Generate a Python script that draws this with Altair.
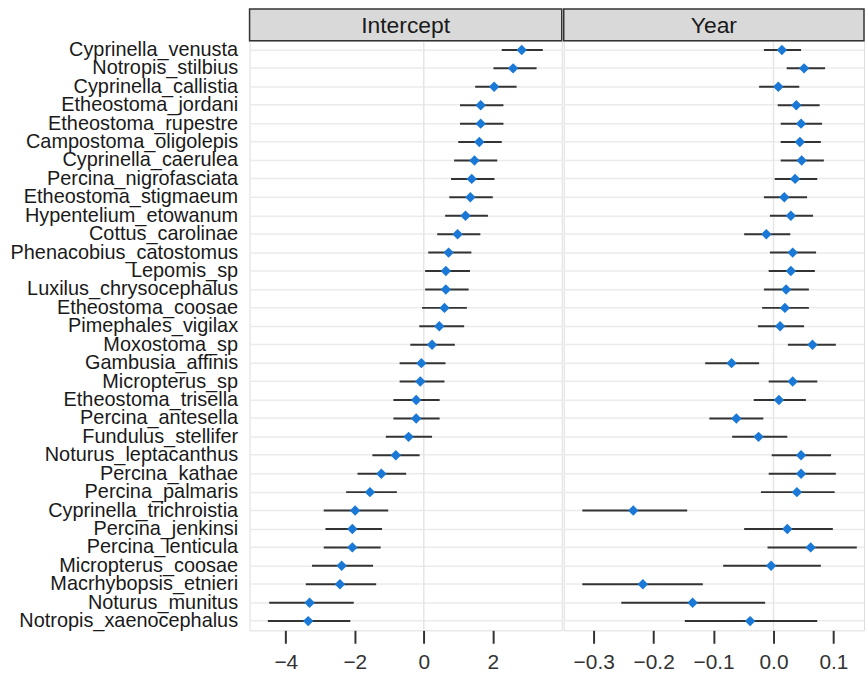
import altair as alt
import pandas as pd

species = [
    "Cyprinella_venusta", "Notropis_stilbius", "Cyprinella_callistia", "Etheostoma_jordani",
    "Etheostoma_rupestre", "Campostoma_oligolepis", "Cyprinella_caerulea", "Percina_nigrofasciata",
    "Etheostoma_stigmaeum", "Hypentelium_etowanum", "Cottus_carolinae", "Phenacobius_catostomus",
    "Lepomis_sp", "Luxilus_chrysocephalus", "Etheostoma_coosae", "Pimephales_vigilax",
    "Moxostoma_sp", "Gambusia_affinis", "Micropterus_sp", "Etheostoma_trisella",
    "Percina_antesella", "Fundulus_stellifer", "Noturus_leptacanthus", "Percina_kathae",
    "Percina_palmaris", "Cyprinella_trichroistia", "Percina_jenkinsi", "Percina_lenticula",
    "Micropterus_coosae", "Macrhybopsis_etnieri", "Noturus_munitus", "Notropis_xaenocephalus",
]

int_est = [2.84, 2.59, 2.04, 1.65, 1.65, 1.61, 1.47, 1.39, 1.35, 1.21, 0.98, 0.72,
           0.64, 0.64, 0.60, 0.45, 0.24, -0.07, -0.10, -0.22, -0.22, -0.44, -0.81, -1.23,
           -1.56, -1.99, -2.07, -2.07, -2.38, -2.43, -3.31, -3.35]
int_lo = [2.26, 2.02, 1.49, 1.05, 1.05, 1.00, 0.88, 0.79, 0.74, 0.62, 0.39, 0.13,
          0.04, 0.04, -0.05, -0.13, -0.39, -0.70, -0.70, -0.88, -0.88, -1.10, -1.49, -1.92,
          -2.25, -2.90, -2.85, -2.90, -3.24, -3.42, -4.48, -4.52]
int_hi = [3.45, 3.27, 2.69, 2.31, 2.31, 2.26, 2.13, 2.05, 2.00, 1.86, 1.64, 1.38,
          1.34, 1.30, 1.25, 1.17, 0.90, 0.63, 0.60, 0.46, 0.46, 0.24, -0.12, -0.51,
          -0.78, -1.03, -1.21, -1.25, -1.47, -1.38, -2.03, -2.13]

yr_est = [0.014, 0.051, 0.008, 0.038, 0.046, 0.044, 0.047, 0.036, 0.018, 0.029, -0.012, 0.032,
          0.029, 0.021, 0.019, 0.011, 0.065, -0.070, 0.032, 0.009, -0.062, -0.025, 0.046, 0.046,
          0.039, -0.234, 0.023, 0.062, -0.004, -0.218, -0.135, -0.039]
yr_lo = [-0.016, 0.022, -0.024, 0.007, 0.012, 0.012, 0.012, 0.002, -0.016, -0.006, -0.049, -0.006,
         -0.008, -0.016, -0.019, -0.026, 0.024, -0.114, -0.008, -0.033, -0.107, -0.069, -0.003, -0.008,
         -0.021, -0.319, -0.049, -0.010, -0.084, -0.319, -0.254, -0.148]
yr_hi = [0.046, 0.086, 0.043, 0.077, 0.081, 0.079, 0.084, 0.073, 0.056, 0.066, 0.028, 0.071,
         0.069, 0.059, 0.059, 0.051, 0.104, -0.024, 0.073, 0.054, -0.017, 0.023, 0.096, 0.104,
         0.102, -0.144, 0.099, 0.139, 0.079, -0.118, -0.014, 0.073]

panels = ["Intercept", "Year"]
int_ticks = [-4, -2, 0, 2]
yr_ticks = [-0.3, -0.2, -0.1, 0.0, 0.1]

df = pd.DataFrame({
    "species": species,
    "int_est": int_est, "int_lo": int_lo, "int_hi": int_hi,
    "yr_est": yr_est, "yr_lo": yr_lo, "yr_hi": yr_hi,
})

FONT = "Liberation Sans"
H = 593


def panel(prefix, domain, ticks, fmt, title, show_labels, width):
    if show_labels:
        y_axis = alt.Axis(
            title=None, labels=True, ticks=False, domain=False, grid=True,
            gridColor="#ebebeb", gridWidth=1.5, labelFont=FONT, labelFontSize=20,
            labelColor="#1a1a1a", labelPadding=12, labelLimit=0,
        )
    else:
        y_axis = alt.Axis(
            title=None, labels=False, ticks=False, domain=False, grid=True,
            gridColor="#ebebeb", gridWidth=1.5, labelPadding=0,
            minExtent=0, maxExtent=0,
        )
    x_axis = alt.Axis(
        values=ticks, format=fmt, title=None, grid=False, domain=False,
        tickSize=13, tickWidth=2, tickColor="#333333", labelFont=FONT,
        labelFontSize=21, labelColor="#333333", labelPadding=8,
    )
    xscale = alt.Scale(domain=domain, nice=False, zero=False)
    yenc = alt.Y("species:N", sort=species, axis=y_axis)

    one = pd.DataFrame({"t": [title]})
    strip = alt.Chart(one).mark_rect(
        fill="#d9d9d9", stroke="#333333", strokeWidth=1.5, cornerRadius=0
    ).encode(x=alt.value(0), x2=alt.value(width), y=alt.value(-32), y2=alt.value(0))
    strip_text = alt.Chart(one).mark_text(
        font=FONT, fontSize=23, color="#1a1a1a", baseline="middle", align="center"
    ).encode(x=alt.value(width / 2), y=alt.value(-15), text="t:N")
    zero = alt.Chart(one).mark_rule(color="#e6e6e6", strokeWidth=1.5).encode(
        x=alt.datum(0, scale=xscale)
    )
    bars = alt.Chart(df).mark_rule(color="#333333", strokeWidth=2).encode(
        x=alt.X(f"{prefix}_lo:Q", scale=xscale, axis=x_axis),
        x2=f"{prefix}_hi:Q",
        y=yenc,
    )
    pts = alt.Chart(df).mark_point(
        shape="diamond", filled=True, size=110, color="#1a78d6", opacity=1
    ).encode(
        x=alt.X(f"{prefix}_est:Q", scale=xscale),
        y=alt.Y("species:N", sort=species),
    )
    return alt.layer(zero, bars, pts, strip, strip_text).properties(width=width, height=H)


left = panel("int", [-5.05, 4.0], int_ticks, "d", panels[0], True, 314)
right = panel("yr", [-0.35, 0.151], yr_ticks, ".1f", panels[1], False, 302)

chart = alt.hconcat(left, right, spacing=-4).properties(
    padding={"left": 9, "top": 5, "right": 0, "bottom": 2}
).configure_view(stroke="#333333", strokeWidth=1.5, cornerRadius=0).configure(background="white")

chart.save("out.html", embed_options={"renderer": "svg", "actions": False})
